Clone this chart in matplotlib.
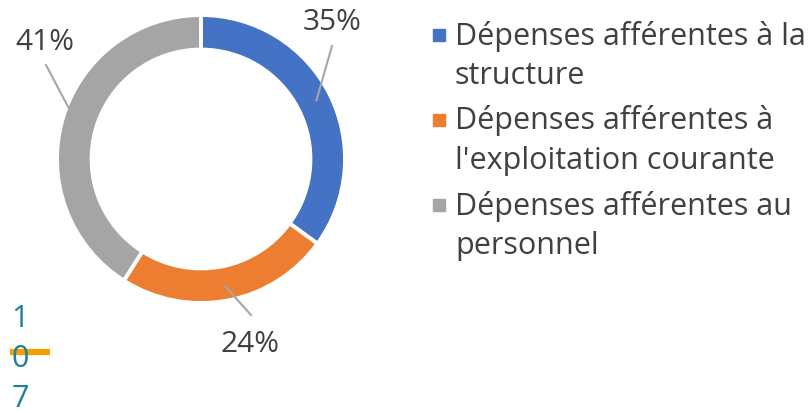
import matplotlib.pyplot as plt
import numpy as np

# data
categories = ["Dépenses afférentes à la structure",
              "Dépenses afférentes à l'exploitation courante",
              "Dépenses afférentes au personnel"]
legend_lines = [["Dépenses afférentes à la", "structure"],
                ["Dépenses afférentes à", "l'exploitation courante"],
                ["Dépenses afférentes au", "personnel"]]
shares = [35, 24, 41]
colors = ["#4472C4", "#ED7D31", "#A5A5A5"]
page_digits = ["1", "0", "7"]

plt.rcParams['font.family'] = ['Open Sans', 'DejaVu Sans']
TXT = "#404040"
FS = 22

W, H = 809, 414
fig = plt.figure(figsize=(W / 100, H / 100), dpi=100)
ax = fig.add_axes([0, 0, 1, 1])

cx, cy, R = 201, H - 160, 144
wedges, _ = ax.pie(shares, colors=colors, startangle=90, counterclock=False,
                   center=(cx, cy), radius=R, frame=True,
                   wedgeprops=dict(width=0.24 * R, edgecolor="white", linewidth=2.8))
ax.set_xlim(0, W)
ax.set_ylim(0, H)
ax.axis("off")

# label placement (pixel offsets from the ring, picked by eye)
label_pos = [(332, H - 22), (250, H - 345), (45, H - 42)]
line_end = [(332, H - 47), (251, H - 316), (46, H - 66)]
for w, val, (lx, ly), (ex, ey) in zip(wedges, shares, label_pos, line_end):
    mid = np.deg2rad((w.theta1 + w.theta2) / 2)
    sx = cx + 0.9 * R * np.cos(mid)
    sy = cy + 0.9 * R * np.sin(mid)
    ax.plot([sx, ex], [sy, ey], color="#A6A6A6", lw=1.5)
    ax.text(lx, ly, f"{val}%", ha="center", va="center", fontsize=21.5, color=TXT)

# legend drawn by hand so the marker sits on the first line
y0 = H - 36
for i, (lines, c) in enumerate(zip(legend_lines, colors)):
    y = y0 - i * 85
    ax.add_patch(plt.Rectangle((433, y - 6), 12, 12, color=c))
    for j, t in enumerate(lines):
        ax.text(455, y - j * 40, t, ha="left", va="center", fontsize=FS, color=TXT)

# stray page number from the source document
for k, d in enumerate(page_digits):
    ax.text(20, H - 319 - k * 40, d, ha="center", va="center", fontsize=FS, color="#1F7E99")
ax.plot([10, 50], [H - 353, H - 353], color="#F5A000", lw=4.5, solid_capstyle="butt")

fig.savefig("out.png", dpi=100)
